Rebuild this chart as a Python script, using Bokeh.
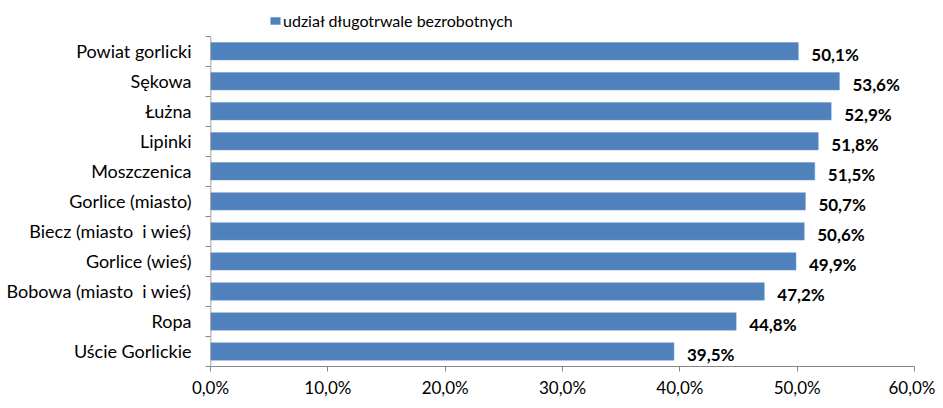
from bokeh.plotting import figure
from bokeh.models import Range1d, FixedTicker, Legend, LegendItem, ColumnDataSource
from bokeh.core.properties import value
from bokeh.embed import file_html
from bokeh.resources import INLINE

categories = ["Powiat gorlicki", "Sękowa", "Łużna", "Lipinki", "Moszczenica",
              "Gorlice (miasto)", "Biecz (miasto \u00a0i wieś)", "Gorlice (wieś)",
              "Bobowa (miasto \u00a0i wieś)", "Ropa", "Uście Gorlickie"]
values = [50.1, 53.6, 52.9, 51.8, 51.5, 50.7, 50.6, 49.9, 47.2, 44.8, 39.5]
x_ticks = [0, 10, 20, 30, 40, 50, 60]
x_tick_labels = ["0,0%", "10,0%", "20,0%", "30,0%", "40,0%", "50,0%", "60,0%"]
series_name = "udział długotrwale bezrobotnych"

FONT = "Lato"
BAR = "#4F81BD"
AX = "#868686"

n = len(categories)
ys = list(range(n))
src = ColumnDataSource(dict(
    y=ys, v=values,
    lab=[("%.1f%%" % v).replace(".", ",") for v in values],
))

# frame extends above the first category to leave room for the legend
top_pad = 30.2 / 30.55
p = figure(width=935, height=400, output_backend="svg", toolbar_location=None,
           x_range=Range1d(0, 60), y_range=Range1d(n - 0.5, -0.5 - top_pad),
           min_border_left=210, min_border_right=21, min_border_top=6,
           min_border_bottom=28)
p.outline_line_color = None
p.xgrid.visible = False
p.ygrid.visible = False

r = p.hbar(y="y", right="v", left=0, height=0.58, source=src,
           fill_color=BAR, line_color="#6E97CA", line_width=0.5)

p.text(x="v", y="y", text="lab", source=src, x_offset=13, y_offset=3,
       text_font=value(FONT), text_font_size="17px", text_font_style="bold",
       text_baseline="middle", text_align="left", text_color="black")

# y axis line only over the category span
p.segment(x0=[0], y0=[-0.5], x1=[0], y1=[n - 0.5], line_color=AX, line_width=1.5)

# x axis
xa = p.xaxis[0]
xa.ticker = FixedTicker(ticks=x_ticks, minor_ticks=[])
xa.major_label_overrides = {t: l for t, l in zip(x_ticks, x_tick_labels)}
xa.axis_line_color = AX
xa.major_tick_line_color = AX
xa.major_tick_out = 5
xa.major_tick_in = 0
xa.minor_tick_line_color = None
xa.major_label_text_font = FONT
xa.major_label_text_font_size = "17px"
xa.major_label_text_color = "black"
xa.major_label_standoff = 5

# y axis
ya = p.yaxis[0]
ya.ticker = FixedTicker(ticks=ys, minor_ticks=[i - 0.5 for i in range(n + 1)])
ya.major_label_overrides = {i: c for i, c in enumerate(categories)}
ya.axis_line_color = None
ya.major_tick_line_color = None
ya.major_tick_out = 0
ya.major_tick_in = 0
ya.minor_tick_line_color = AX
ya.minor_tick_out = 5
ya.minor_tick_in = 0
ya.major_label_text_font = FONT
ya.major_label_text_font_size = "18px"
ya.major_label_text_color = "black"
ya.major_label_standoff = 14

legend = Legend(items=[LegendItem(label=series_name, renderers=[r])],
                location=(59, 336), orientation="horizontal",
                label_text_font=FONT, label_text_font_size="16px",
                label_text_color="black", glyph_width=12, glyph_height=9,
                label_standoff=2, padding=0, margin=0, spacing=0,
                border_line_color=None, background_fill_alpha=0)
p.add_layout(legend, "center")

open("out.html", "w").write(file_html(p, INLINE))
